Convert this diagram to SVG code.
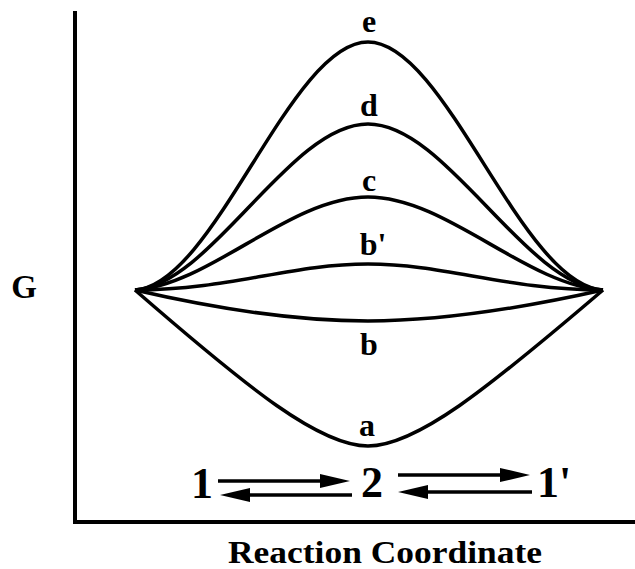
<svg xmlns="http://www.w3.org/2000/svg" width="635" height="569" viewBox="0 0 635 569">
<style>
.axis{stroke:#000;stroke-width:4;fill:none}
.curve{stroke:#000;stroke-width:3.5;fill:none;stroke-linejoin:miter}
.arr{stroke:#000;stroke-width:3.5;fill:none}
.lbl{font-family:"Liberation Serif","Times New Roman",serif;font-weight:bold;fill:#000;text-anchor:middle}
</style>
<defs>
<marker id="head" viewBox="0 0 30 14" refX="20" refY="7" markerWidth="30" markerHeight="14" markerUnits="userSpaceOnUse" orient="auto">
<path d="M0,0 L30,7 L0,14 z" fill="#000"/>
</marker>
</defs>
<g id="axes">
<line class="axis" x1="75" y1="11" x2="75" y2="524"/>
<line class="axis" x1="73" y1="522" x2="635" y2="522"/>
</g>
<g id="curves">
<path id="curve-e" class="curve" d="M135,290 C215,285 290,42 368,42 C446,42 521,285 603,290"/>
<path id="curve-d" class="curve" d="M135,290 C212,284 290,124 368,124 C446,124 524,284 603,290"/>
<path id="curve-c" class="curve" d="M135,290 C210,285 290,197 368,197 C446,197 526,285 603,290"/>
<path id="curve-bp" class="curve" d="M135,290 C230,290 290,264 368,264 C446,264 506,290 603,290"/>
<path id="curve-b" class="curve" d="M135,290 C200,305 290,321 368,321 C446,321 536,305 603,290"/>
<path id="curve-a" class="curve" d="M135,290 C250,390 320,446 368,446 C416,446 486,390 603,290"/>
</g>
<g id="labels">
<text class="lbl" x="369" y="32" font-size="32">e</text>
<text class="lbl" x="369" y="116" font-size="32">d</text>
<text class="lbl" x="369" y="191" font-size="32">c</text>
<text class="lbl" x="373" y="255" font-size="32">b'</text>
<text class="lbl" x="369" y="355" font-size="32">b</text>
<text class="lbl" x="367" y="436" font-size="32">a</text>
<text class="lbl" x="24" y="298" font-size="33">G</text>
<text class="lbl" x="385" y="563" font-size="32" textLength="314" lengthAdjust="spacingAndGlyphs">Reaction Coordinate</text>
</g>
<g id="species">
<text id="n1" class="lbl" x="202" y="498" font-size="44">1</text>
<text id="n2" class="lbl" x="372" y="497" font-size="44">2</text>
<text id="n1p" class="lbl" x="554" y="497" font-size="44">1'</text>
</g>
<g id="connectors">
<line class="arr" x1="218" y1="481" x2="340" y2="481" marker-end="url(#head)"/>
<line class="arr" x1="352" y1="495" x2="230" y2="495" marker-end="url(#head)"/>
<line class="arr" x1="398" y1="475" x2="520" y2="475" marker-end="url(#head)"/>
<line class="arr" x1="532" y1="492" x2="408" y2="492" marker-end="url(#head)"/>
</g>
</svg>
